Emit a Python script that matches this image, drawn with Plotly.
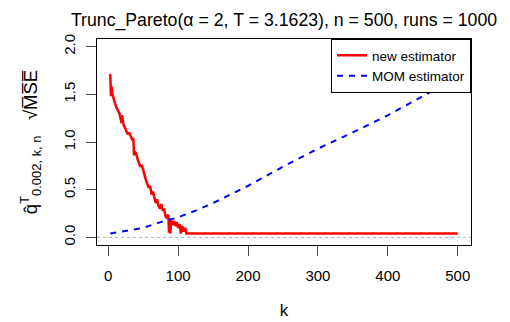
import plotly.graph_objects as go

# new estimator (red, jagged)
k_new = [2, 3, 4, 5, 6, 8, 10, 12, 14, 16, 18, 19, 20, 22, 24, 26, 28, 30, 32, 34,
         36, 37, 38, 40, 42, 44, 46, 48, 50, 52, 54, 56, 58, 60, 62, 64, 66, 68, 70,
         72, 74, 76, 78, 80, 82, 84, 86, 87, 88, 89, 90, 92, 94, 96, 98, 100, 102,
         104, 106, 108, 110, 112, 500]
new_est = [1.71, 1.70, 1.48, 1.58, 1.50, 1.44, 1.40, 1.36, 1.33, 1.30, 1.24, 1.20,
           1.28, 1.18, 1.15, 1.12, 1.08, 1.10, 1.06, 1.03, 1.04, 0.86, 0.90, 0.88,
           0.82, 0.78, 0.74, 0.76, 0.70, 0.64, 0.60, 0.56, 0.52, 0.54, 0.45, 0.48,
           0.42, 0.36, 0.40, 0.33, 0.30, 0.35, 0.28, 0.30, 0.22, 0.20, 0.24, 0.05,
           0.20, 0.04, 0.18, 0.13, 0.17, 0.12, 0.16, 0.10, 0.14, 0.04, 0.12, 0.06,
           0.10, 0.04, 0.04]

# MOM estimator (blue, dashed)
k_mom = [3, 25, 50, 75, 100, 125, 150, 175, 200, 250, 300, 350, 400, 450, 500]
mom_est = [0.04, 0.07, 0.10, 0.16, 0.21, 0.28, 0.36, 0.45, 0.54, 0.74, 0.93, 1.10,
           1.28, 1.48, 1.67]

x_ticks = [0, 100, 200, 300, 400, 500]
y_ticks = [0.0, 0.5, 1.0, 1.5, 2.0]

FONT = "Arial, Liberation Sans, sans-serif"

fig = go.Figure()
fig.add_trace(go.Scatter(x=k_new, y=new_est, mode="lines", name="new estimator",
                         line=dict(color="#FF0000", width=2.5)))
fig.add_trace(go.Scatter(x=k_mom, y=mom_est, mode="lines", name="MOM estimator",
                         line=dict(color="#0000FF", width=2, dash="6px,6px")))

# grey dotted reference line at zero
fig.add_shape(type="line", xref="paper", x0=0, x1=1, yref="y", y0=0, y1=0,
              line=dict(color="#B0B0B0", width=1, dash="dot"), layer="below")

# page body keeps its default 8px margin, so the figure is sized to fit the window
fig.update_layout(
    width=502, height=314,
    margin=dict(l=89, r=39, t=31, b=77, autoexpand=False),
    paper_bgcolor="white", plot_bgcolor="white",
    font=dict(family=FONT, color="black", size=15),
    title=dict(text="Trunc_Pareto(\u03b1 = 2, T = 3.1623), n = 500, runs = 1000",
               xref="paper", x=0.5, xanchor="center",
               yref="container", y=0.962, yanchor="middle",
               font=dict(size=17.7), automargin=False),
    legend=dict(x=1, xanchor="right", y=1, yanchor="top",
                bordercolor="black", borderwidth=1, bgcolor="white",
                font=dict(size=13.5), itemwidth=30, tracegroupgap=0),
    showlegend=True,
)
fig.update_xaxes(range=[-16, 519], tickvals=x_ticks, ticks="outside", ticklen=10,
                 showline=True, linecolor="black", mirror=True, showgrid=False,
                 zeroline=False, tickfont=dict(size=15), ticklabelstandoff=7,
                 automargin=False,
                 title=dict(text="k", font=dict(size=17), standoff=21))
fig.update_yaxes(range=[-0.08, 2.08], tickvals=y_ticks, ticktext=["0.0", "0.5", "1.0", "1.5", "2.0"],
                 ticks="outside", ticklen=10, tickangle=-90, ticklabelstandoff=5,
                 showline=True, linecolor="black", mirror=True, showgrid=False,
                 zeroline=False, tickfont=dict(size=15), automargin=False,
                 title=dict(text="q\u0302<sup>T</sup><sub>0.002, k, n</sub>   \u221aM\u0305S\u0305E\u0305",
                            font=dict(size=18.5), standoff=18))

fig.write_html("out.html")
